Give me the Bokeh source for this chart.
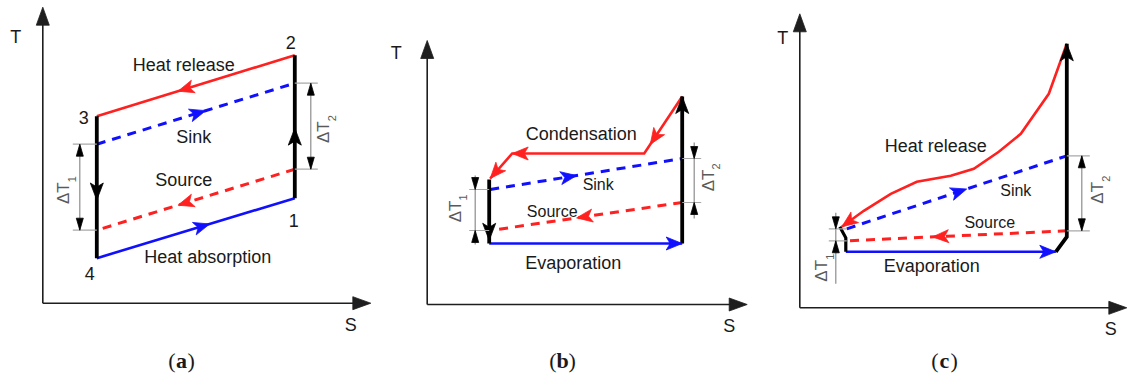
import numpy as np
from bokeh.plotting import figure
from bokeh.models import Range1d
from bokeh.embed import file_html
from bokeh.resources import INLINE
from bokeh.core.properties import value

W, H = 1127, 378

# ---------------------------------------------------------------------------
# Cycle data for the three T-S diagrams (local S/T units, origin at axis corner)
# ---------------------------------------------------------------------------

# (a) ideal cycle 1-2-3-4
a_state_names = ["1", "2", "3", "4"]
a_state_S = [252, 252, 54, 54]
a_state_T = [105, 248, 187, 45]
a_sink_S = [54, 252]
a_sink_T = [159, 220]
a_source_S = [252, 54]
a_source_T = [134, 73]

# (b) subcritical cycle with condensation
b_cond_S = [255, 217, 85, 63]
b_cond_T = [208, 151, 151, 126]
b_expand_S = [62, 62]
b_expand_T = [125, 61]
b_evap_S = [62, 255]
b_evap_T = [61, 61]
b_comp_S = [255, 255]
b_comp_T = [61, 208]
b_sink_S = [63, 255]
b_sink_T = [115, 146]
b_source_S = [255, 63]
b_source_T = [102, 74]

# (c) transcritical cycle with gliding heat release
c_release_S = [267, 249, 221, 199, 174, 151, 117, 91, 64, 42]
c_release_T = [264, 214, 174, 156, 139, 132, 126, 114, 97, 81]
c_comp_S = [256, 267, 267]
c_comp_T = [56, 71, 264]
c_evap_S = [46, 256]
c_evap_T = [56, 56]
c_expand_S = [46, 46, 40]
c_expand_T = [56, 70, 81]
c_sink_S = [47, 267]
c_sink_T = [79, 152]
c_source_S = [267, 47]
c_source_T = [77, 67]

# ---------------------------------------------------------------------------
# Layout / style
# ---------------------------------------------------------------------------
ORIGIN = {"a": (42.3, 302.7), "b": (426.7, 304.0), "c": (799.3, 307.3)}
AXIS_TIP = {"a": (328, 296), "b": (320, 264), "c": (327, 294)}

RED = "#ff2020"
BLUE = "#1010ff"
BLACK = "#000000"
AXIS = "#1e1e1e"
TXT = "#1a1a1a"
DIM_TXT = "#5a5a5a"
DIM_LINE = "#8c8c8c"
EXT_LINE = "#a8a8a8"
SANS = "Liberation Sans"
SERIF = "Liberation Serif"
DASH = "9 7"


def gx(panel, S):
    return ORIGIN[panel][0] + np.asarray(S, dtype=float)


def gy(panel, T):
    return H - ORIGIN[panel][1] + np.asarray(T, dtype=float)


p = figure(width=W, height=H, x_range=Range1d(0, W), y_range=Range1d(0, H),
           x_axis_location=None, y_axis_location=None, toolbar_location=None,
           output_backend="svg", min_border=0, outline_line_color=None,
           background_fill_color="white", border_fill_color="white")
p.grid.visible = False


def path(panel, S, T, color, width, dash="solid"):
    p.line(gx(panel, S), gy(panel, T), line_color=color, line_width=width,
           line_dash=dash, line_join="miter")


def arrowhead(panel, tS, tT, uS, uT, color, length=16, width=13, notch=4):
    # filled arrowhead with a shallow notch, tip at (tS, tT) pointing along (uS, uT)
    nS, nT = -uT, uS
    bS, bT = tS - uS * length, tT - uT * length
    cS, cT = tS - uS * (length - notch), tT - uT * (length - notch)
    S = [tS, bS + nS * width / 2, cS, bS - nS * width / 2]
    T = [tT, bT + nT * width / 2, cT, bT - nT * width / 2]
    p.patch(gx(panel, S), gy(panel, T), fill_color=color, line_color=color, line_width=0.8)


def head(panel, S0, T0, S1, T1, frac, color, length=16, width=13, notch=4):
    S0, T0, S1, T1 = float(S0), float(T0), float(S1), float(T1)
    tS = S0 + (S1 - S0) * frac
    tT = T0 + (T1 - T0) * frac
    L = np.hypot(S1 - S0, T1 - T0)
    arrowhead(panel, tS, tT, (S1 - S0) / L, (T1 - T0) / L, color, length, width, notch)


def label(panel, S, T, txt, size=18, color=TXT, angle=0.0, font=SANS,
          style="normal", align="center"):
    p.text(x=[float(gx(panel, S))], y=[float(gy(panel, T))], text=[txt],
           text_font=value(font), text_font_size=f"{size}px", text_font_style=style,
           text_align=align, text_baseline="middle", text_color=color, angle=angle)


def axes(panel):
    sTip, tTip = AXIS_TIP[panel]
    p.line(gx(panel, [0, 0]), gy(panel, [0, tTip - 14]), line_color=AXIS, line_width=1.6)
    p.line(gx(panel, [0, sTip - 14]), gy(panel, [0, 0]), line_color=AXIS, line_width=1.6)
    arrowhead(panel, 0, tTip, 0, 1, AXIS, length=18, width=13, notch=0)
    arrowhead(panel, sTip, 0, 1, 0, AXIS, length=18, width=13, notch=0)


def dim_tri(panel, S, T, direction):
    # narrow filled arrowhead, tip at (S, T); direction +1 points up, -1 down
    arrowhead(panel, S, T, 0, direction, BLACK, length=12, width=7, notch=0)


def dimension(panel, S, T_hi, T_lo, ext_from, ext_to, outside, lab_S, lab_T, sub,
              reach_up=16, reach_down=16):
    p.segment(x0=gx(panel, [ext_from, ext_from]), y0=gy(panel, [T_hi, T_lo]),
              x1=gx(panel, [ext_to, ext_to]), y1=gy(panel, [T_hi, T_lo]),
              line_color=EXT_LINE, line_width=1.2)
    if outside:
        p.line(gx(panel, [S, S]), gy(panel, [T_hi + reach_up, T_lo - reach_down]),
               line_color=DIM_LINE, line_width=1.2)
        dim_tri(panel, S, T_hi, -1)
        dim_tri(panel, S, T_lo, +1)
    else:
        p.line(gx(panel, [S, S]), gy(panel, [T_hi, T_lo]), line_color=DIM_LINE, line_width=1.2)
        dim_tri(panel, S, T_hi, +1)
        dim_tri(panel, S, T_lo, -1)
    label(panel, lab_S, lab_T, "ΔT", size=17, color=DIM_TXT, angle=np.pi / 2)
    label(panel, lab_S + 8, lab_T + 14, sub, size=11, color=DIM_TXT, angle=np.pi / 2)


# ------------------------------- panel (a) --------------------------------
axes("a")
S1, S2, S3, S4 = a_state_S
T1, T2, T3, T4 = a_state_T
path("a", a_sink_S, a_sink_T, BLUE, 3, DASH)
path("a", a_source_S, a_source_T, RED, 3, DASH)
path("a", [S2, S3], [T2, T3], RED, 2.6)
path("a", [S4, S1], [T4, T1], BLUE, 2.6)
path("a", [S3, S4], [T3, T4], BLACK, 3.8)
path("a", [S1, S2], [T1, T2], BLACK, 3.8)
head("a", S2, T2, S3, T3, 0.59, RED)
head("a", S4, T4, S1, T1, 0.57, BLUE)
head("a", a_sink_S[0], a_sink_T[0], a_sink_S[1], a_sink_T[1], 0.55, BLUE)
head("a", a_source_S[0], a_source_T[0], a_source_S[1], a_source_T[1], 0.59, RED)
head("a", S3, T3, S4, T4, 0.59, BLACK, 17, 13)
head("a", S1, T1, S2, T2, 0.49, BLACK, 17, 13)
dimension("a", 37, a_sink_T[0], a_source_T[1], 30, S3, False, 21, 110, "1")
dimension("a", 268, a_sink_T[1], a_source_T[0], S1, 275, False, 281, 171, "2")
for name, s, t in zip(a_state_names, [251, 248, 41, 47], [83, 261, 186, 30]):
    label("a", s, t, name, size=18)
label("a", 141, 238, "Heat release")
label("a", 151, 166, "Sink")
label("a", 141, 123, "Source")
label("a", 165, 46, "Heat absorption")
label("a", -27, 266, "T")
label("a", 308, -22, "S")

# ------------------------------- panel (b) --------------------------------
axes("b")
path("b", b_sink_S, b_sink_T, BLUE, 3, DASH)
path("b", b_source_S, b_source_T, RED, 3, DASH)
path("b", b_cond_S, b_cond_T, RED, 2.6)
path("b", b_evap_S, b_evap_T, BLUE, 2.6)
path("b", b_expand_S, b_expand_T, BLACK, 3.8)
path("b", b_comp_S, b_comp_T, BLACK, 3.8)
head("b", b_cond_S[0], b_cond_T[0], b_cond_S[1], b_cond_T[1], 0.84, RED)
head("b", b_cond_S[1], b_cond_T[1], b_cond_S[2], b_cond_T[2], 1.0, RED)
head("b", b_cond_S[2], b_cond_T[2], b_cond_S[3], b_cond_T[3], 1.0, RED)
head("b", b_evap_S[0], b_evap_T[0], b_evap_S[1], b_evap_T[1], 1.0, BLUE)
head("b", b_sink_S[0], b_sink_T[0], b_sink_S[1], b_sink_T[1], 0.45, BLUE)
head("b", b_source_S[0], b_source_T[0], b_source_S[1], b_source_T[1], 0.55, RED)
head("b", b_expand_S[0], b_expand_T[0], b_expand_S[1], b_expand_T[1], 0.95, BLACK, 17, 13)
head("b", b_comp_S[0], b_comp_T[0], b_comp_S[1], b_comp_T[1], 1.0, BLACK, 17, 13)
dimension("b", 48, b_sink_T[0], b_source_T[1], 42, b_expand_S[0], True, 28, 93, "1",
          reach_up=14, reach_down=14)
dimension("b", 267, b_sink_T[1], b_source_T[0], b_comp_S[0], 274, True, 281, 124, "2",
          reach_up=16, reach_down=16)
label("b", 154, 171, "Condensation")
label("b", 171, 120, "Sink", size=16)
label("b", 125, 93, "Source", size=16)
label("b", 146, 42, "Evaporation")
label("b", -31, 252, "T")
label("b", 302, -21, "S")

# ------------------------------- panel (c) --------------------------------
axes("c")
path("c", c_sink_S, c_sink_T, BLUE, 3, DASH)
path("c", c_source_S, c_source_T, RED, 3, DASH)
path("c", c_release_S, c_release_T, RED, 2.6)
path("c", c_evap_S, c_evap_T, BLUE, 2.6)
path("c", c_expand_S, c_expand_T, BLACK, 3.2)
path("c", c_comp_S, c_comp_T, BLACK, 3.8)
head("c", c_release_S[-2], c_release_T[-2], c_release_S[-1], c_release_T[-1], 1.0, RED)
head("c", c_evap_S[0], c_evap_T[0], c_evap_S[1], c_evap_T[1], 1.0, BLUE)
head("c", c_sink_S[0], c_sink_T[0], c_sink_S[1], c_sink_T[1], 0.545, BLUE)
head("c", c_source_S[0], c_source_T[0], c_source_S[1], c_source_T[1], 0.61, RED)
head("c", c_comp_S[1], c_comp_T[1], c_comp_S[2], c_comp_T[2], 1.0, BLACK, 17, 13)
dimension("c", 36, c_sink_T[0], c_source_T[1], 29, c_sink_S[0], True, 22, 37, "1",
          reach_up=16, reach_down=43)
dimension("c", 282, c_sink_T[1], c_source_T[0], c_comp_S[2], 290, False, 298, 115, "2")
label("c", 136, 162, "Heat release")
label("c", 216, 117, "Sink", size=16)
label("c", 190, 85, "Source", size=16)
label("c", 132, 42, "Evaporation")
label("c", -17, 270, "T")
label("c", 311, -21, "S")

# ------------------------------- captions ---------------------------------
CAPTION_X = {"a": 181, "b": 562, "c": 944}
CAPTION_Y = 18
for key, cx in CAPTION_X.items():
    p.text(x=[cx - 6], y=[CAPTION_Y], text=["("], text_font=value(SERIF), text_font_size="22px",
           text_align="right", text_baseline="middle", text_color=TXT)
    p.text(x=[cx], y=[CAPTION_Y], text=[key], text_font=value(SERIF), text_font_size="22px",
           text_font_style="bold", text_align="center", text_baseline="middle", text_color=TXT)
    p.text(x=[cx + 6], y=[CAPTION_Y], text=[")"], text_font=value(SERIF), text_font_size="22px",
           text_align="left", text_baseline="middle", text_color=TXT)

open("out.html", "w").write(file_html(p, INLINE))
